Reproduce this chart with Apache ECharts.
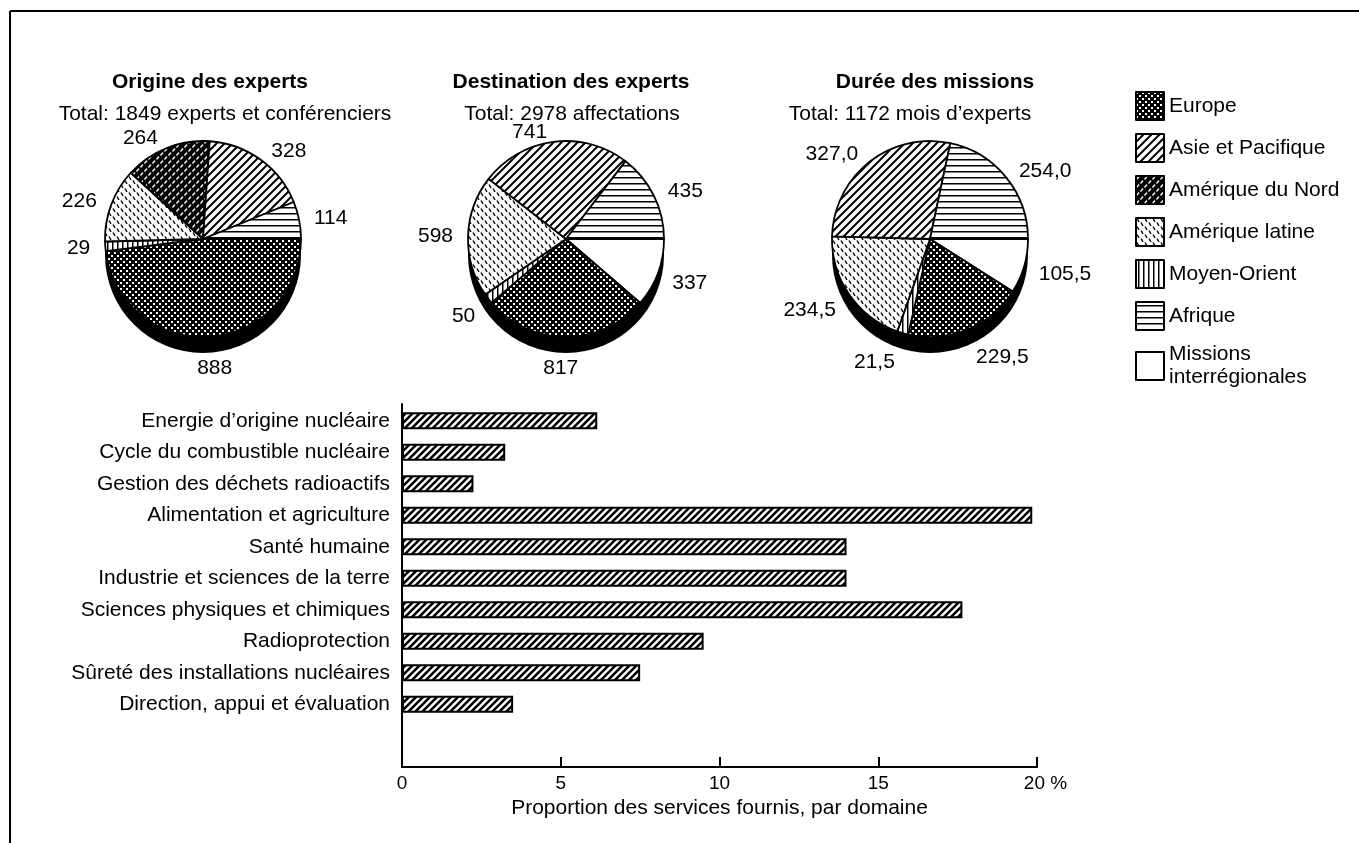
<!DOCTYPE html>
<html>
<head>
<meta charset="utf-8">
<title>Services d'experts</title>
<script src="https://cdn.jsdelivr.net/npm/echarts@6/dist/echarts.min.js"></script>
<style>
  html, body { margin: 0; padding: 0; background: #fff; }
  #chart { width: 1359px; height: 843px; }
</style>
</head>
<body>
<div id="chart"></div>
<script>
// legend order
var regions = ['Europe', 'Asie et Pacifique', 'Amérique du Nord', 'Amérique latine', 'Moyen-Orient', 'Afrique', 'Missions interrégionales'];
// order of the slices, clockwise from 3 o'clock
var pieOrder = ['Missions interrégionales', 'Europe', 'Moyen-Orient', 'Amérique latine', 'Amérique du Nord', 'Asie et Pacifique', 'Afrique'];
var origineValues = [0, 888, 29, 226, 264, 328, 114];
var destinationValues = [337, 817, 50, 598, 0, 741, 435];
var dureeValues = [105.5, 229.5, 21.5, 234.5, 0, 327.0, 254.0];

var pieTitles = ['Origine des experts', 'Destination des experts', 'Durée des missions'];
var pieSubtitles = ['Total: 1849 experts et conférenciers', 'Total: 2978 affectations', 'Total: 1172 mois d\u2019experts'];

var domaines = [
    'Energie d\u2019origine nucléaire',
    'Cycle du combustible nucléaire',
    'Gestion des déchets radioactifs',
    'Alimentation et agriculture',
    'Santé humaine',
    'Industrie et sciences de la terre',
    'Sciences physiques et chimiques',
    'Radioprotection',
    'Sûreté des installations nucléaires',
    'Direction, appui et évaluation'
];
var proportions = [6.15, 3.25, 2.25, 19.85, 14.0, 14.0, 17.65, 9.5, 7.5, 3.5];

// pattern fills
function pattern(size, bg, draw) {
    var c = document.createElement('canvas');
    c.width = size;
    c.height = size;
    var ctx = c.getContext('2d');
    ctx.fillStyle = bg;
    ctx.fillRect(0, 0, size, size);
    draw(ctx, size);
    return {image: c, repeat: 'repeat'};
}
function diag(ctx, s) {
    ctx.beginPath();
    ctx.moveTo(-s, s); ctx.lineTo(s, -s);
    ctx.moveTo(0, s); ctx.lineTo(s, 0);
    ctx.moveTo(0, 2 * s); ctx.lineTo(2 * s, 0);
    ctx.stroke();
}
var fills = {
    'Europe': pattern(6, '#000', function (ctx) {
        ctx.fillStyle = '#fff';
        ctx.fillRect(0, 0, 2, 2);
        ctx.fillRect(3, 3, 2, 2);
    }),
    'Asie et Pacifique': pattern(8, '#fff', function (ctx, s) {
        ctx.strokeStyle = '#000'; ctx.lineWidth = 2; diag(ctx, s);
    }),
    'Amérique du Nord': pattern(8, '#000', function (ctx) {
        ctx.strokeStyle = '#fff'; ctx.lineWidth = 1.3;
        ctx.beginPath();
        ctx.moveTo(0.5, 3.5); ctx.lineTo(3, 0.5);
        ctx.moveTo(4.5, 7.5); ctx.lineTo(7, 4.5);
        ctx.stroke();
    }),
    'Amérique latine': pattern(8, '#fff', function (ctx) {
        ctx.strokeStyle = '#000'; ctx.lineWidth = 1.4;
        ctx.beginPath();
        ctx.moveTo(1, 0.5); ctx.lineTo(3, 4);
        ctx.moveTo(5, 4.5); ctx.lineTo(7, 8);
        ctx.stroke();
    }),
    'Moyen-Orient': pattern(5, '#fff', function (ctx) {
        ctx.fillStyle = '#000'; ctx.fillRect(2, 0, 1.5, 5);
    }),
    'Afrique': pattern(6, '#fff', function (ctx) {
        ctx.fillStyle = '#000'; ctx.fillRect(0, 3, 6, 1.5);
    }),
    'Missions interrégionales': '#fff'
};
var barFill = pattern(7, '#fff', function (ctx, s) {
    ctx.strokeStyle = '#000'; ctx.lineWidth = 2.6; diag(ctx, s);
});

var fontFamily = '"Liberation Sans", Arial, Helvetica, sans-serif';
var fontSize = 21;
var pieCenters = [203, 566, 930];
var pieY = 239;
var pieR = 98;
var depth = 16;
var labelDrop = 22;

function pieData(values) {
    var out = [];
    for (var i = 0; i < pieOrder.length; i++) {
        if (values[i] > 0) {
            out.push({value: values[i], name: pieOrder[i], itemStyle: {color: fills[pieOrder[i]]}});
        }
    }
    return out;
}

// push labels of the lower half below the black side, centre the ones right under the pie
function pieLabelLayout(cx) {
    return function (params) {
        var r = params.labelRect;
        var mx = r.x + r.width / 2;
        var my = r.y + r.height / 2;
        var d = Math.sqrt((mx - cx) * (mx - cx) + (my - pieY) * (my - pieY)) || 1;
        var out = {};
        var s = (my - pieY) / d;
        if (s > 0) out.dy = s * labelDrop;
        if (Math.abs(mx - cx) < r.width && my > pieY) out.align = 'center';
        return out;
    };
}

var pieSeries = [];
var allValues = [origineValues, destinationValues, dureeValues];
for (var p = 0; p < 3; p++) {
    // black side of the disc
    pieSeries.push({
        type: 'pie',
        silent: true,
        z: 1,
        center: [pieCenters[p], pieY + depth],
        radius: pieR,
        data: [{value: 1, name: 'side' + p}],
        itemStyle: {color: '#000'},
        label: {show: false},
        labelLine: {show: false}
    });
    pieSeries.push({
        type: 'pie',
        z: 2,
        center: [pieCenters[p], pieY],
        radius: pieR,
        startAngle: 0,
        clockwise: true,
        data: pieData(allValues[p]),
        itemStyle: {borderColor: '#000', borderWidth: 1.8},
        emphasis: {scale: false},
        label: {
            position: 'outside',
            fontSize: fontSize,
            color: '#000',
            fontFamily: fontFamily,
            formatter: p === 2 ? function (d) {
                return d.value.toFixed(1).replace('.', ',');
            } : '{c}'
        },
        labelLine: {show: false, length: 10, length2: 0},
        labelLayout: pieLabelLayout(pieCenters[p])
    });
}

var titles = [];
var subX = [220, 567, 905];
for (var t = 0; t < 3; t++) {
    titles.push({
        text: pieTitles[t], left: pieCenters[t] + (t === 0 ? 2 : 0), top: 67, textAlign: 'center',
        textStyle: {fontSize: 21, fontWeight: 'bold', color: '#000', fontFamily: fontFamily}
    });
    titles.push({
        text: pieSubtitles[t], left: subX[t], top: 99, textAlign: 'center',
        textStyle: {fontSize: fontSize, fontWeight: 'normal', color: '#000', fontFamily: fontFamily}
    });
}

var option = {
    animation: false,
    textStyle: {fontFamily: fontFamily, color: '#000'},
    title: titles,
    legend: {
        data: regions,
        orient: 'vertical',
        left: 1130,
        top: 86,
        icon: 'rect',
        itemWidth: 28,
        itemHeight: 28,
        itemGap: 12,
        itemStyle: {borderColor: '#000', borderWidth: 2},
        textStyle: {fontSize: fontSize, color: '#000', fontFamily: fontFamily, lineHeight: 23},
        formatter: function (name) {
            return name === 'Missions interrégionales' ? 'Missions\ninterrégionales' : name;
        }
    },
    graphic: [
        {type: 'line', shape: {x1: 10, y1: 11, x2: 1359, y2: 11}, style: {stroke: '#000', lineWidth: 2}},
        {type: 'line', shape: {x1: 10, y1: 11, x2: 10, y2: 843}, style: {stroke: '#000', lineWidth: 2}}
    ],
    grid: [
        {left: 402, right: 322, top: 405, height: 378},
        {left: 402, right: 322, top: 404, height: 363}
    ],
    xAxis: [
        {type: 'value', gridIndex: 0, min: 0, max: 20, show: false},
        {
            type: 'value', gridIndex: 1, min: 0, max: 20, interval: 5,
            axisLine: {lineStyle: {color: '#000', width: 2}},
            axisTick: {inside: true, length: 10, lineStyle: {color: '#000', width: 2}},
            splitLine: {show: false},
            axisLabel: {
                fontSize: 19, color: '#000', margin: 7,
                formatter: function (v) { return v === 20 ? '{p|}20 %' : String(v); },
                rich: {p: {width: 17}}
            },
            name: 'Proportion des services fournis, par domaine',
            nameLocation: 'middle',
            nameGap: 31,
            nameTextStyle: {fontSize: fontSize, color: '#000'}
        }
    ],
    yAxis: [
        {
            type: 'category', gridIndex: 0, inverse: true,
            data: domaines.concat(['', '']),
            axisLine: {show: false},
            axisTick: {show: false},
            axisLabel: {fontSize: fontSize, color: '#000', margin: 12, interval: 0}
        },
        {
            type: 'value', gridIndex: 1, min: 0, max: 1,
            axisLine: {show: true, lineStyle: {color: '#000', width: 2}},
            axisTick: {show: false},
            axisLabel: {show: false},
            splitLine: {show: false}
        }
    ],
    series: pieSeries.concat([{
        type: 'bar',
        xAxisIndex: 0,
        yAxisIndex: 0,
        data: proportions,
        barWidth: 17,
        itemStyle: {color: barFill, borderColor: '#000', borderWidth: 2},
        emphasis: {disabled: true}
    }])
};

var myChart = echarts.init(document.getElementById('chart'));
myChart.setOption(option);
</script>
</body>
</html>
